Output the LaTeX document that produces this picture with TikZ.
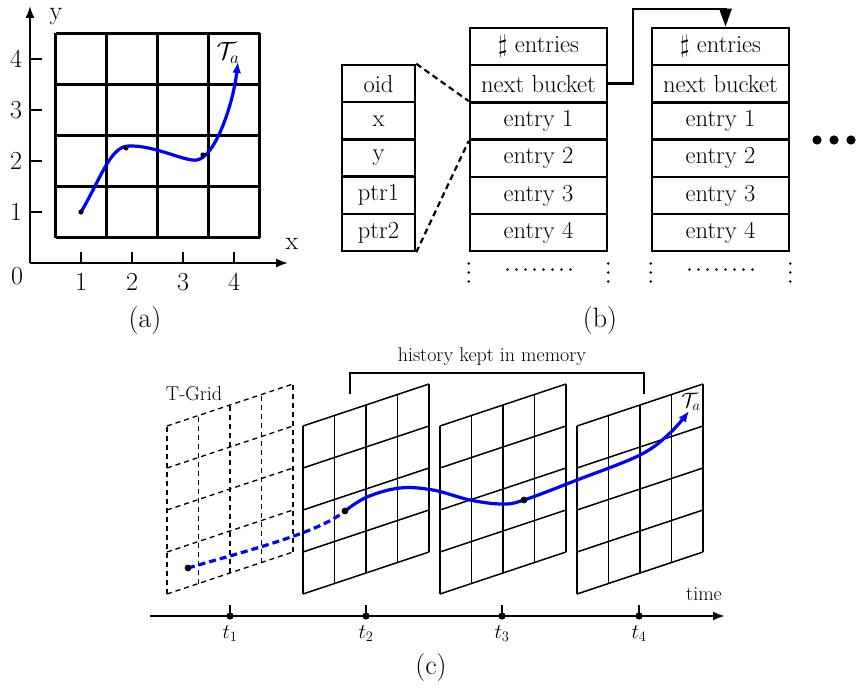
\documentclass[tikz,border=0pt]{standalone}
\usetikzlibrary{arrows.meta,calc}
\begin{document}
\begin{tikzpicture}[x=1pt,y=-1pt,
  lblA/.style={font=\fontsize{26}{30}\selectfont, inner sep=0pt},
  lblC/.style={font=\fontsize{20}{24}\selectfont, inner sep=0pt},
  capt/.style={font=\fontsize{28}{32}\selectfont, inner sep=0pt},
  cell/.style={draw, line width=2.5pt, minimum width=137pt, minimum height=37.2pt, inner sep=0pt, font=\fontsize{24.5}{28}\selectfont},
  lcell/.style={cell, minimum width=73pt},
  tgrid/.style={line width=1.4pt, dash pattern=on 5pt off 4pt},
  sgrid/.style={line width=1.5pt},
  traj/.style={draw=blue, line width=3.2pt},
  ptr/.style={line width=2.2pt, dash pattern=on 6pt off 4pt},
  vdots/.style={line width=2.8pt, line cap=round, dash pattern=on 0pt off 9pt},
]
\useasboundingbox (0,0) rectangle (862,690);

% ---------------- (a) ----------------
\foreach \i in {0,...,4}{
  \draw[line width=2.1pt] (55.5+51*\i,33.5) -- (55.5+51*\i,237.5);
  \draw[line width=2.1pt] (55.5,33.5+51*\i) -- (259.5,33.5+51*\i);
}
\coordinate (ao) at (30,263);
\coordinate (ax) at (288,263);
\coordinate (ay) at (30,6);
\draw[line width=1.9pt,-{Latex[length=12pt,width=9pt]}] (ao) -- (ax);
\draw[line width=1.9pt,-{Latex[length=12pt,width=9pt]}] (ao) -- (ay);
\foreach \k in {1,...,4}{
  \draw[line width=1.9pt] (30+51*\k,252) -- (30+51*\k,263);
  \draw[line width=1.9pt] (30,263-51*\k) -- (42,263-51*\k);
  \node[lblA] (xl\k) at (30+51*\k,282) {\k};
  \node[lblA] (yl\k) at (16,263-51*\k) {\k};
}
\node[lblA] (zero) at (17,276) {0};
\node[lblA] (xlab) at (292,244) {x};
\node[lblA] (ylab) at (56,17) {y};
\draw[traj,-{Latex[length=11pt,width=9pt]}] (81,212) .. controls (100,180) and (110,147) .. (128,146)
  .. controls (155,145) and (185,162) .. (197,160)
  .. controls (215,157) and (233,105) .. (238,62);
\fill (81,212) circle (2.6) (126,148) circle (2.6) (203,155) circle (2.6);
\node[lblA] (Ta) at (228,53) {$\mathcal{T}_a$};
\node[capt] (capa) at (145,321) {(a)};

% ---------------- (b) ----------------
\foreach \lt [count=\r] in {oid,x,y,ptr1,ptr2}{
  \node[lcell] (l\r) at ({378.5},{83.6+37.2*(\r-1)}) {\lt};
}
\foreach \lt [count=\r] in {{$\sharp$ entries},{next bucket},{entry 1},{entry 2},{entry 3},{entry 4}}{
  \node[cell] (m\r) at ({538.5},{46.6+37.2*(\r-1)}) {\lt};
  \node[cell] (r\r) at ({720.5},{46.6+37.2*(\r-1)}) {\lt};
}
\draw[ptr] (l1.north east) -- (m3.north west);
\draw[ptr] (l5.south east) -- (m3.south west);
\coordinate (turn) at (633,9);
\draw[line width=2.6pt,-{Triangle[length=18pt,width=12pt]}] (m2.east) -| (turn) -| ([xshift=5pt]r1.north);
\foreach \n in {m,r}{
  \draw[vdots] ($(\n6.south west)+(0,11)$) -- ++(0,20);
  \draw[vdots] ($(\n6.south east)+(0,11)$) -- ++(0,20);
  \draw[vdots] ($(\n6.south)+(-31,17)$) -- ++(66,0);
}
\fill (817,140) circle (4.6) (834,140) circle (4.6) (851,140) circle (4.6);
\node[capt] (capb) at (600,321) {(b)};

% ---------------- (c) ----------------
\foreach \gx/\gs in {167/tgrid,303/sgrid,440/sgrid,577/sgrid}{
  \foreach \i in {0,...,4}{
    \draw[\gs] (\gx+31.5*\i,594-10.5*\i) -- ++(0,-168);
    \draw[\gs] (\gx,594-42*\i) -- ++(126,-42);
  }
}
\node[lblC] (tgridlab) at (194,394) {T-Grid};
\draw[line width=1.3pt] (350,394) |- (644,373) -- (644,394);
\node[lblC] (hist) at (492,357) {history kept in memory};
\draw[traj, dash pattern=on 7pt off 4pt] (188,568) .. controls (250,550) and (320,532) .. (345,511);
\draw[traj,-{Latex[length=11pt,width=9pt]}] plot[smooth, tension=0.6] coordinates
  {(345,511) (367,497) (400,488) (433,490) (470,500) (502,504) (524,500) (577,480) (640,455) (670,433) (689,411)};
\fill (188,568) circle (3.4) (345,511) circle (3.4) (524,500) circle (3.4);
\node[lblC] (Tc) at (691,402) {$\mathcal{T}_a$};
\coordinate (ts) at (150,616);
\coordinate (te) at (725,616);
\draw[line width=2.3pt,-{Latex[length=12pt,width=9pt]}] (ts) -- (te);
\node[lblC] (time) at (704,594) {time};
\foreach \x/\n in {230/1,366/2,502/3,639/4}{
  \draw[line width=2.3pt] (\x,605) -- (\x,616);
  \fill (\x,616) circle (3.6);
  \node[lblC] (t\n) at (\x,634) {$t_\n$};
}
\node[capt] (capc) at (431,668) {(c)};
\end{tikzpicture}
\end{document}
